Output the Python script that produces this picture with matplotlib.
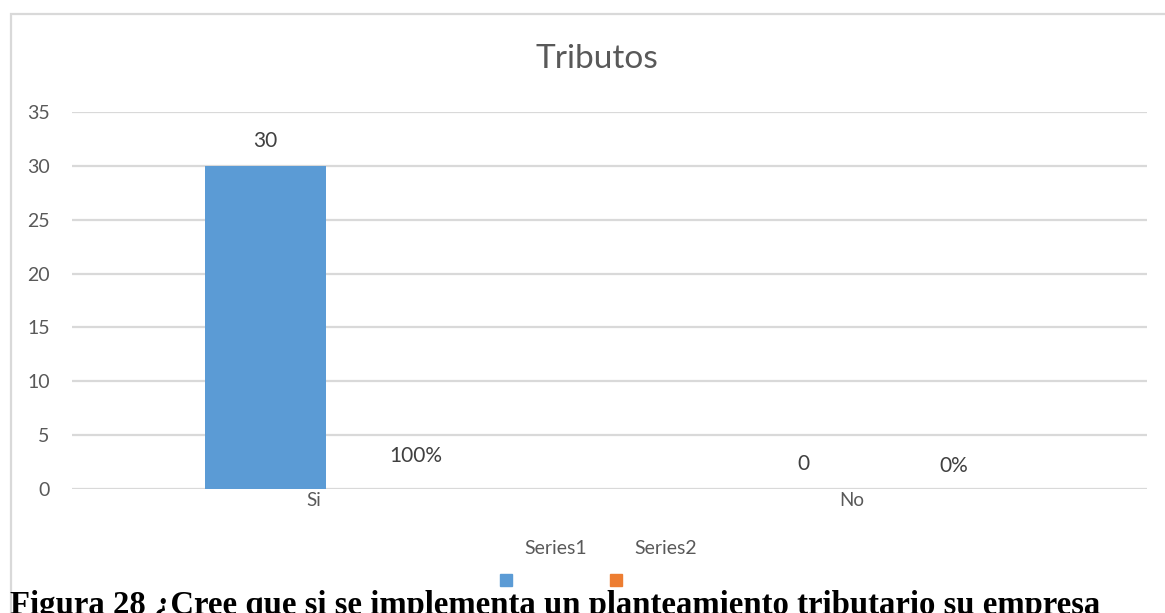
import matplotlib
matplotlib.use("Agg")
import matplotlib.pyplot as plt
from matplotlib.patches import Rectangle
import numpy as np

# ---- data ----
categories = ["Si", "No"]
series_names = ["Series1", "Series2"]
series1 = [30, 0]
series2_pct = [1.0, 0.0]          # shown as percent labels
y_ticks = [0, 5, 10, 15, 20, 25, 30, 35]
title = "Tributos"
caption = "Figura 28 ¿Cree que si se implementa un planteamiento tributario su empresa"

colors = ["#5b9bd5", "#ed7d31"]
grid_c = "#d9d9d9"
txt_c = "#595959"
lab_c = "#404040"

plt.rcParams['font.family'] = ['Lato', 'DejaVu Sans']

W, H = 1165, 613
fig = plt.figure(figsize=(W / 100, H / 100), dpi=100)


def fx(px):
    return px / W


def fy(py):
    return 1 - py / H


# chart border
fig.patches.append(Rectangle((fx(11), fy(650)), fx(1200) - fx(11), fy(14) - fy(650),
                             transform=fig.transFigure, fill=False,
                             edgecolor=grid_c, linewidth=1.6, clip_on=False))

ax = fig.add_axes([fx(72), fy(489), fx(1147) - fx(72), fy(112) - fy(489)])
x = np.arange(len(categories))
w = 0.225
off = 0.14
b1 = ax.bar(x - off, series1, w, color=colors[0], zorder=3)
b2 = ax.bar(x + off, series2_pct, w, color='none', edgecolor='none', zorder=3)
ax.bar_label(b1, labels=[str(v) for v in series1], padding=11, fontsize=15, color=lab_c)
ax.bar_label(b2, labels=[f"{v:.0%}" for v in series2_pct], padding=9, fontsize=15, color=lab_c)

ax.set_ylim(0, 35)
ax.set_xlim(-0.5, len(categories) - 0.5)
ax.set_yticks(y_ticks)
ax.set_yticklabels([str(t) for t in y_ticks], fontsize=14, color=txt_c)
ax.set_xticks(x - 0.05)
ax.set_xticklabels(categories, fontsize=13.5, color=txt_c)
ax.tick_params(axis='y', length=0, pad=16)
ax.tick_params(axis='x', length=0, pad=2)
ax.yaxis.grid(True, color=grid_c, linewidth=1.6, zorder=0)
ax.set_axisbelow(True)
for s in ax.spines.values():
    s.set_visible(False)
ax.set_facecolor('none')

# title
fig.text(fx(597), fy(59), title, ha='center', va='center', fontsize=24, color=txt_c)

# legend (text above, marker below as in reference)
leg_text_x = [556, 666]
leg_mark_x = [500, 610]
for name, c, tx, mx in zip(series_names, colors, leg_text_x, leg_mark_x):
    fig.text(fx(tx), fy(549), name, ha='center', va='center', fontsize=14, color=txt_c)
    fig.patches.append(Rectangle((fx(mx), fy(586)), fx(12), 12 / H,
                                 transform=fig.transFigure, color=c))

# caption
fig.text(fx(10), fy(590), caption, ha='left', va='top', fontsize=23.6,
         fontweight='bold', family=['Liberation Serif', 'DejaVu Serif'], color='black')

fig.savefig("out.png", dpi=100)
